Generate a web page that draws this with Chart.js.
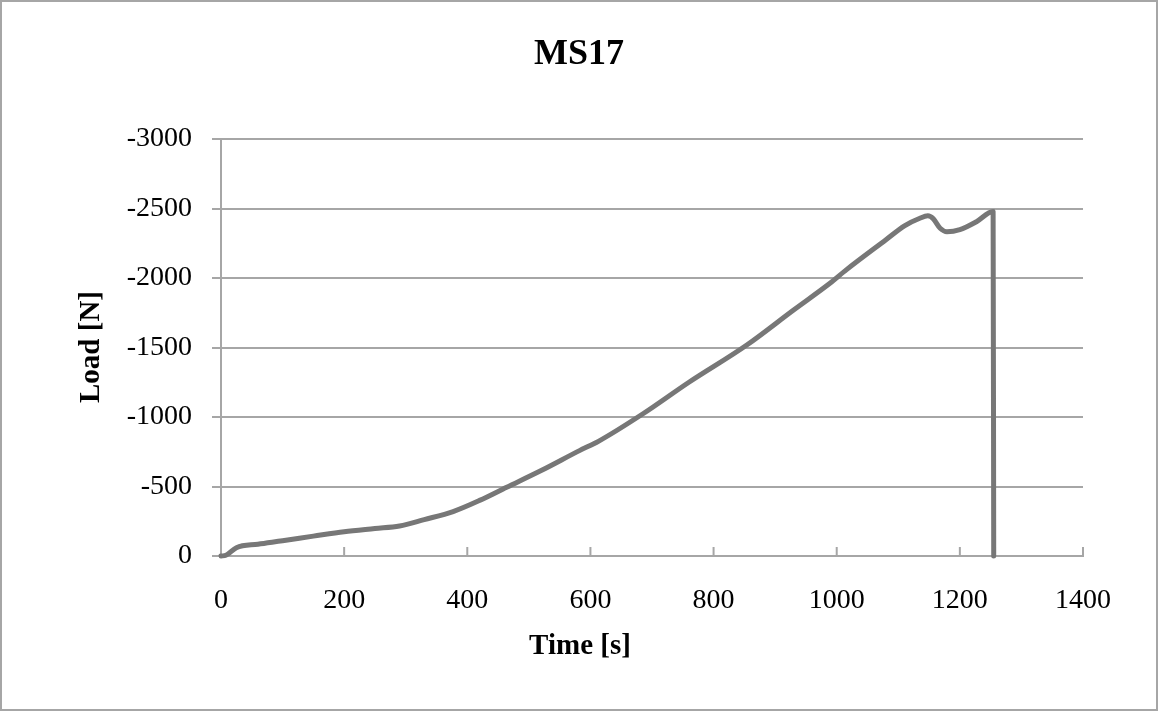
<!DOCTYPE html>
<html>
<head>
<meta charset="utf-8">
<title>MS17</title>
<script src="https://cdn.jsdelivr.net/npm/chart.js@4/dist/chart.umd.min.js"></script>
<style>
  body { margin: 0; background: #fff; }
  canvas { display: block; }
</style>
</head>
<body>
<canvas id="myChart" width="1158" height="712"></canvas>
<script>
// Dados do ensaio MS17 (tempo em s, carga em N)
var tempo = [0, 8, 25, 60, 100, 150, 200, 250, 290, 330, 377, 420, 464, 520, 583, 613, 686, 760, 854, 930,
             989, 1016, 1080, 1110, 1135, 1148, 1157, 1168, 1179, 1200, 1227, 1254, 1255];
var carga = [0, -5, -60, -85, -110, -143, -175, -198, -216, -262, -320, -400, -495, -615, -760, -825, -1025, -1250, -1518, -1770,
             -1962, -2060, -2275, -2375, -2430, -2447, -2425, -2358, -2333, -2348, -2405, -2478, 0];

// Marcas dos eixos
var ticksX = [0, 200, 400, 600, 800, 1000, 1200, 1400];
var ticksY = [0, -500, -1000, -1500, -2000, -2500, -3000];

var titulo = 'MS17';
var tituloX = 'Time [s]';
var tituloY = 'Load [N]';

var fonte = '"Liberation Serif", "Times New Roman", serif';
var cinza = '#a6a6a6';

// Plugin: moldura, títulos e marcas do eixo X (para dentro)
var extras = {
    id: 'extras',
    beforeDraw: function(chart) {
        var ctx = chart.ctx;
        ctx.save();
        ctx.fillStyle = '#fff';
        ctx.fillRect(0, 0, chart.width, chart.height);
        ctx.strokeStyle = cinza;
        ctx.lineWidth = 2;
        ctx.strokeRect(1, 1, chart.width - 2, chart.height - 3);
        ctx.restore();
    },
    beforeDatasetsDraw: function(chart) {
        var ctx = chart.ctx;
        var x = chart.scales.x;
        ctx.save();
        ctx.strokeStyle = cinza;
        ctx.lineWidth = 2;
        x.ticks.forEach(function(t) {
            var px = x.getPixelForValue(t.value);
            ctx.beginPath();
            ctx.moveTo(px, x.top);
            ctx.lineTo(px, x.top - 9);
            ctx.stroke();
        });
        ctx.restore();
    },
    afterDraw: function(chart) {
        var ctx = chart.ctx;
        ctx.save();
        ctx.fillStyle = '#000';
        ctx.textAlign = 'center';
        ctx.textBaseline = 'middle';
        ctx.font = 'bold 36px ' + fonte;
        ctx.fillText(titulo, 579, 55);
        ctx.font = 'bold 29px ' + fonte;
        ctx.fillText(tituloX, 580, 647);
        ctx.translate(92, 347);
        ctx.rotate(-Math.PI / 2);
        ctx.fillText(tituloY, 0, 0);
        ctx.restore();
    }
};

window.onload = function() {
    var ctx = document.getElementById('myChart').getContext('2d');

    var pontos = tempo.map(function(t, i) { return { x: t, y: carga[i] }; });

    var myChart = new Chart(ctx, {
        type: 'scatter',
        data: {
            datasets: [{
                label: titulo,
                data: pontos,
                showLine: true,
                borderColor: '#777777',
                borderWidth: 5,
                borderJoinStyle: 'round',
                borderCapStyle: 'round',
                pointRadius: 0,
                cubicInterpolationMode: 'monotone', // curva suave sem ultrapassar os pontos
                fill: false,
                clip: false
            }]
        },
        options: {
            responsive: false,
            animation: false,
            devicePixelRatio: 1,
            layout: { padding: { top: 139, right: 75, bottom: 0, left: 0 } },
            plugins: {
                legend: { display: false },
                tooltip: { enabled: false }
            },
            scales: {
                x: {
                    type: 'linear',
                    min: 0,
                    max: 1400,
                    afterBuildTicks: function(s) { s.ticks = ticksX.map(function(v) { return { value: v }; }); },
                    afterFit: function(s) { s.height = 156; },
                    ticks: {
                        color: '#000',
                        font: { family: fonte, size: 28 },
                        padding: 28,
                        maxRotation: 0,
                        callback: function(v) { return String(v); }
                    },
                    grid: { drawOnChartArea: false, drawTicks: false },
                    border: { color: cinza, width: 2 }
                },
                y: {
                    type: 'linear',
                    reverse: true, // 0 embaixo, -3000 em cima
                    min: -3000,
                    max: 0,
                    afterBuildTicks: function(s) { s.ticks = ticksY.map(function(v) { return { value: v }; }); },
                    afterFit: function(s) { s.width = 221; },
                    ticks: {
                        color: '#000',
                        font: { family: fonte, size: 28 },
                        padding: 20,
                        callback: function(v) { return String(v); }
                    },
                    grid: { color: cinza, lineWidth: 2, tickLength: 9 },
                    border: { color: cinza, width: 2 }
                }
            }
        },
        plugins: [extras]
    });
};
</script>
</body>
</html>
